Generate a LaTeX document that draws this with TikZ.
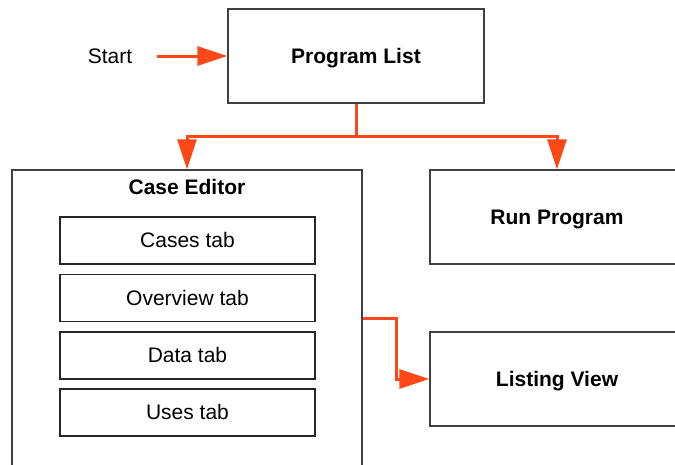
\documentclass[tikz,border=0pt]{standalone}
\usepackage{fontspec}
\setmainfont{Liberation Sans}
\usetikzlibrary{arrows.meta}
\definecolor{flowred}{RGB}{255,72,24}

\begin{document}
\begin{tikzpicture}[x=1pt, y=-1pt, every node/.style={font=\fontsize{21}{24}\selectfont, text height=15pt, text depth=1pt},
	box/.style={draw=black!75, line width=1.2pt, inner sep=0pt, font=\fontsize{21}{24}\selectfont\bfseries},
	tab/.style={draw=black!85, line width=1.4pt, minimum width=255pt, minimum height=47pt, inner sep=0pt},
	flow/.style={draw=flowred, line width=3pt, -{Triangle[length=30pt, width=19pt]}}]
	\useasboundingbox (0,0) rectangle (675,464);
	\clip (0,0) rectangle (675,464);
	\node[box, minimum width=256pt, minimum height=94pt] (plist) at (356,56) {Program List};
	\node (start) at (110,56) {Start};
	\node[box, minimum width=350pt, minimum height=330pt] (cedit) at (187,335) {};
	\node[font=\fontsize{21}{24}\selectfont\bfseries] (ctitle) at (187,187) {Case Editor};
	\node[tab] (cases) at (187.5,240.5) {Cases tab};
	\node[tab] (overview) at (187.5,298) {Overview tab};
	\node[tab] (data) at (187.5,355.5) {Data tab};
	\node[tab] (uses) at (187.5,412.5) {Uses tab};
	\node[box, minimum width=254pt, minimum height=94pt] (run) at (557,217) {Run Program};
	\node[box, minimum width=254pt, minimum height=94pt] (listing) at (557,379) {Listing View};
	\coordinate (split) at (356,136);
	\coordinate (bend) at (396,318);
	\draw[flow] ([xshift=21pt]start.east) -- (plist.west);
	\draw[flow] (plist.south) -- (split) -| (cedit.north);
	\draw[flow] (split) -| (run.north);
	\draw[flow] (cedit.east |- bend) -- (bend) |- (listing.west);
\end{tikzpicture}
\end{document}
